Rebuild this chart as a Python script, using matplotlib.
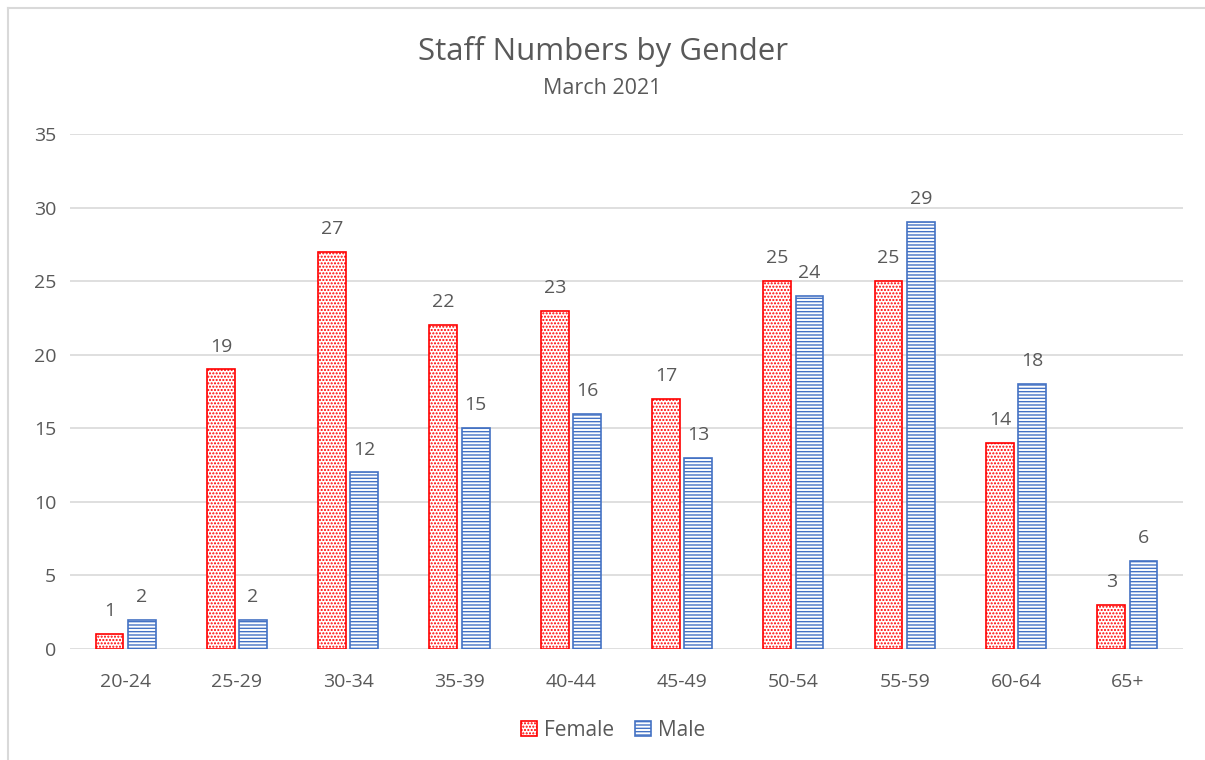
import numpy as np
import matplotlib.pyplot as plt
from matplotlib.lines import Line2D

plt.rcParams['hatch.linewidth'] = 1.0
plt.rcParams['font.family'] = ['Open Sans', 'DejaVu Sans']

age_groups = ['20-24', '25-29', '30-34', '35-39', '40-44', '45-49', '50-54', '55-59', '60-64', '65+']
female = [1, 19, 27, 22, 23, 17, 25, 25, 14, 3]
male = [2, 2, 12, 15, 16, 13, 24, 29, 18, 6]

red = '#FF0000'
blue = '#4472C4'
grey_text = '#595959'


def main():
    fig = plt.figure(figsize=(12.05, 7.6), dpi=100)
    ax = fig.add_axes([0.0581, 0.1461, 0.9236, 0.6776])

    x = np.arange(len(age_groups))
    w = 0.25
    off = 0.145
    bf = ax.bar(x - off, female, w, facecolor='white', edgecolor=red, hatch='.....',
                linewidth=1.2, label='Female', zorder=3)
    bm = ax.bar(x + off, male, w, facecolor='white', edgecolor=blue, hatch='-----',
                linewidth=1.2, label='Male', zorder=3)

    for bars in (bf, bm):
        ax.bar_label(bars, padding=10, fontsize=14, color=grey_text)

    ax.set_xlim(-0.5, len(age_groups) - 0.5)
    ax.set_ylim(0, 35)
    ax.set_yticks(range(0, 36, 5))
    ax.set_xticks(x)
    ax.set_xticklabels(age_groups)
    ax.tick_params(axis='both', length=0, labelsize=14, colors=grey_text)
    ax.tick_params(axis='x', pad=17)
    ax.tick_params(axis='y', pad=10)
    ax.grid(axis='y', color='#D9D9D9', linewidth=1.2, zorder=0)
    ax.set_axisbelow(True)
    for s in ax.spines.values():
        s.set_visible(False)

    fig.text(0.5, 0.932, 'Staff Numbers by Gender', ha='center', va='center',
             fontsize=22.5, color=grey_text)
    fig.text(0.5, 0.883, 'March 2021', ha='center', va='center',
             fontsize=15.5, color=grey_text)

    fig.legend(handles=[bf, bm], loc='center', bbox_to_anchor=(0.509, 0.039), ncol=2,
               frameon=False, fontsize=15, labelcolor=grey_text,
               handlelength=0.75, handleheight=0.75, handletextpad=0.35, columnspacing=1.0)

    # chart frame: only top and left edges show in the reference
    fig.lines.append(Line2D([0.0066, 0.0066], [0.0, 0.99], transform=fig.transFigure,
                            color='#D9D9D9', linewidth=1.5))
    fig.lines.append(Line2D([0.0066, 1.0], [0.99, 0.99], transform=fig.transFigure,
                            color='#D9D9D9', linewidth=1.5))

    fig.savefig('out.png', dpi=100)


if __name__ == '__main__':
    main()
